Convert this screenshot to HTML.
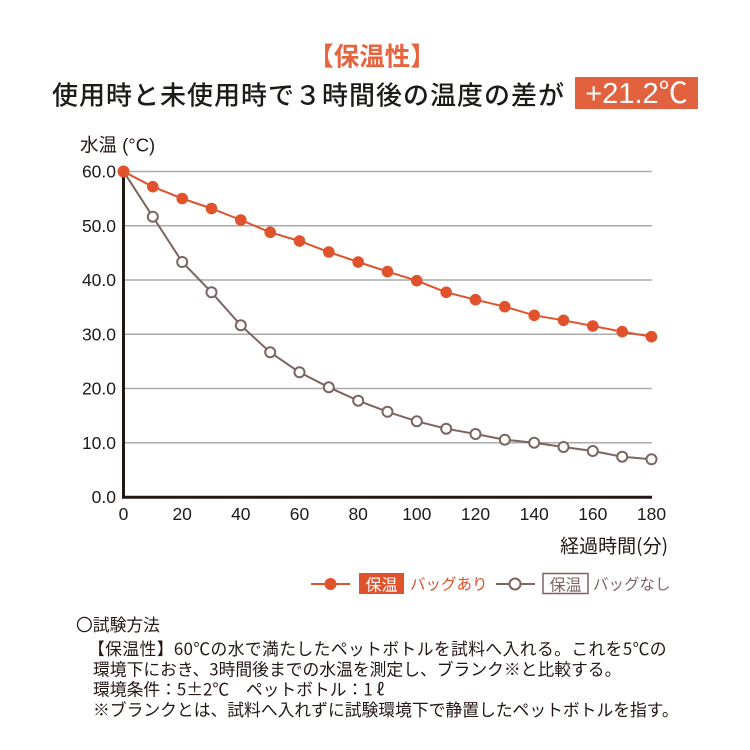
<!DOCTYPE html>
<html><head><meta charset="utf-8"><style>
html,body{margin:0;padding:0;background:#fff;}
svg{display:block;}
.jp{font-family:"Liberation Sans","Noto Sans CJK JP",sans-serif;}
</style></head><body>
<svg width="750" height="750" viewBox="0 0 750 750" xmlns="http://www.w3.org/2000/svg" class="jp">
<rect width="750" height="750" fill="#fff"/>
<!-- title -->
<text x="372" y="55" text-anchor="middle" dominant-baseline="central" font-size="25.5" font-weight="bold" fill="#e6653f" font-family="Noto Sans CJK JP, sans-serif">【保温性】</text>
<text x="52" y="94" dominant-baseline="central" font-size="26" font-weight="500" fill="#1e1a18" letter-spacing="1.0" font-family="Noto Sans CJK JP, sans-serif">使用時と未使用時で３時間後の温度の差が</text>
<rect x="575" y="77" width="123" height="32" fill="#e2623f"/>
<text x="636.5" y="94" text-anchor="middle" dominant-baseline="central" font-size="29" fill="#fff" font-family="Liberation Sans, Noto Sans CJK JP, sans-serif">+21.2℃</text>

<!-- axis title -->
<text x="80" y="145" dominant-baseline="central" font-size="18.5" fill="#231815">水温 (°C)</text>

<!-- gridlines -->
<g stroke="#ababab" stroke-width="1.5">
<line x1="123" y1="171.5" x2="652" y2="171.5"/>
<line x1="123" y1="225.8" x2="652" y2="225.8"/>
<line x1="123" y1="280" x2="652" y2="280"/>
<line x1="123" y1="334.3" x2="652" y2="334.3"/>
<line x1="123" y1="388.5" x2="652" y2="388.5"/>
<line x1="123" y1="442.8" x2="652" y2="442.8"/>
</g>
<!-- axes -->
<line x1="123.5" y1="171" x2="123.5" y2="498.5" stroke="#231815" stroke-width="3"/>
<line x1="122" y1="497.2" x2="652" y2="497.2" stroke="#231815" stroke-width="3"/>

<!-- y ticks -->
<g font-size="17.5" fill="#1e1a18" text-anchor="end" dominant-baseline="central" font-family="Liberation Sans, sans-serif">
<text x="116" y="171.5">60.0</text>
<text x="116" y="225.8">50.0</text>
<text x="116" y="280">40.0</text>
<text x="116" y="334.3">30.0</text>
<text x="116" y="388.5">20.0</text>
<text x="116" y="442.8">10.0</text>
<text x="116" y="497">0.0</text>
</g>
<!-- x ticks -->
<g font-size="17.5" fill="#1e1a18" text-anchor="middle" dominant-baseline="central" font-family="Liberation Sans, sans-serif">
<text x="123.5" y="514">0</text>
<text x="182.2" y="514">20</text>
<text x="240.8" y="514">40</text>
<text x="299.5" y="514">60</text>
<text x="358.2" y="514">80</text>
<text x="416.8" y="514">100</text>
<text x="475.5" y="514">120</text>
<text x="534.2" y="514">140</text>
<text x="592.8" y="514">160</text>
<text x="651.5" y="514">180</text>
</g>
<text x="668" y="545" text-anchor="end" dominant-baseline="central" font-size="19" fill="#231815" font-family="Noto Sans CJK JP, sans-serif">経過時間(分)</text>

<!-- grey series (no bag) -->
<polyline fill="none" stroke="#7b6560" stroke-width="2" points="123.5,171.5 152.8,216.7 182.2,262 211.5,292.3 240.8,325.3 270.2,352.3 299.5,372.3 328.8,387.3 358.2,400.7 387.5,411.8 416.8,421.3 446.2,428.7 475.5,434 504.8,439.7 534.2,442.7 563.5,447 592.8,451 622.2,456.7 651.5,459.3"/>
<g fill="#fff" stroke="#7b6560" stroke-width="2">
<circle cx="152.8" cy="216.7" r="5"/><circle cx="182.2" cy="262" r="5"/><circle cx="211.5" cy="292.3" r="5"/><circle cx="240.8" cy="325.3" r="5"/><circle cx="270.2" cy="352.3" r="5"/><circle cx="299.5" cy="372.3" r="5"/><circle cx="328.8" cy="387.3" r="5"/><circle cx="358.2" cy="400.7" r="5"/><circle cx="387.5" cy="411.8" r="5"/><circle cx="416.8" cy="421.3" r="5"/><circle cx="446.2" cy="428.7" r="5"/><circle cx="475.5" cy="434" r="5"/><circle cx="504.8" cy="439.7" r="5"/><circle cx="534.2" cy="442.7" r="5"/><circle cx="563.5" cy="447" r="5"/><circle cx="592.8" cy="451" r="5"/><circle cx="622.2" cy="456.7" r="5"/><circle cx="651.5" cy="459.3" r="5"/>
</g>
<!-- orange series (bag) -->
<polyline fill="none" stroke="#e0522b" stroke-width="2" points="123.5,171.5 152.8,186.7 182.2,198.5 211.5,208.5 240.8,220 270.2,232.3 299.5,241 328.8,252 358.2,262 387.5,271.6 416.8,280.7 446.2,292.3 475.5,299.7 504.8,306.7 534.2,315.3 563.5,320.3 592.8,326 622.2,331.7 651.5,336.7"/>
<g fill="#e0522b">
<circle cx="123.5" cy="171.5" r="6"/><circle cx="152.8" cy="186.7" r="5.8"/><circle cx="182.2" cy="198.5" r="5.8"/><circle cx="211.5" cy="208.5" r="5.8"/><circle cx="240.8" cy="220" r="5.8"/><circle cx="270.2" cy="232.3" r="5.8"/><circle cx="299.5" cy="241" r="5.8"/><circle cx="328.8" cy="252" r="5.8"/><circle cx="358.2" cy="262" r="5.8"/><circle cx="387.5" cy="271.6" r="5.8"/><circle cx="416.8" cy="280.7" r="5.8"/><circle cx="446.2" cy="292.3" r="5.8"/><circle cx="475.5" cy="299.7" r="5.8"/><circle cx="504.8" cy="306.7" r="5.8"/><circle cx="534.2" cy="315.3" r="5.8"/><circle cx="563.5" cy="320.3" r="5.8"/><circle cx="592.8" cy="326" r="5.8"/><circle cx="622.2" cy="331.7" r="5.8"/><circle cx="651.5" cy="336.7" r="5.8"/>
</g>

<!-- legend -->
<line x1="311" y1="584" x2="350" y2="584" stroke="#e0522b" stroke-width="2"/>
<circle cx="330.5" cy="584" r="6" fill="#e0522b"/>
<rect x="359" y="573" width="45" height="21" fill="#e0522b"/>
<text x="381.5" y="583.5" text-anchor="middle" dominant-baseline="central" font-size="16" fill="#fff" font-family="Noto Sans CJK JP, sans-serif">保温</text>
<text x="410" y="583.5" dominant-baseline="central" font-size="15.5" fill="#e0522b" font-family="Noto Sans CJK JP, sans-serif">バッグあり</text>
<line x1="496" y1="584" x2="535" y2="584" stroke="#7b6560" stroke-width="2"/>
<circle cx="515" cy="584" r="5.5" fill="#fff" stroke="#7b6560" stroke-width="2"/>
<rect x="543" y="573.5" width="45" height="20" fill="#fff" stroke="#7b6560" stroke-width="1.5"/>
<text x="565.5" y="583.5" text-anchor="middle" dominant-baseline="central" font-size="16" fill="#7b6560" font-family="Noto Sans CJK JP, sans-serif">保温</text>
<text x="593" y="583.5" dominant-baseline="central" font-size="15.5" fill="#7b6560" font-family="Noto Sans CJK JP, sans-serif">バッグなし</text>

<!-- method -->
<g font-size="16.8" fill="#231815" dominant-baseline="central" font-family="Noto Sans CJK JP, sans-serif">
<text x="76" y="624">〇試験方法</text>
<text x="88" y="648" letter-spacing="0.4">【保温性】60℃の水で満たしたペットボトルを試料へ入れる。これを5℃の</text>
<text x="93" y="668.5">環境下におき、3時間後までの水温を測定し、ブランク※と比較する。</text>
<text x="93" y="688.5">環境条件：5±2℃　ペットボトル：1 ℓ</text>
<text x="93" y="709">※ブランクとは、試料へ入れずに試験環境下で静置したペットボトルを指す。</text>
</g>
</svg>
</body></html>
